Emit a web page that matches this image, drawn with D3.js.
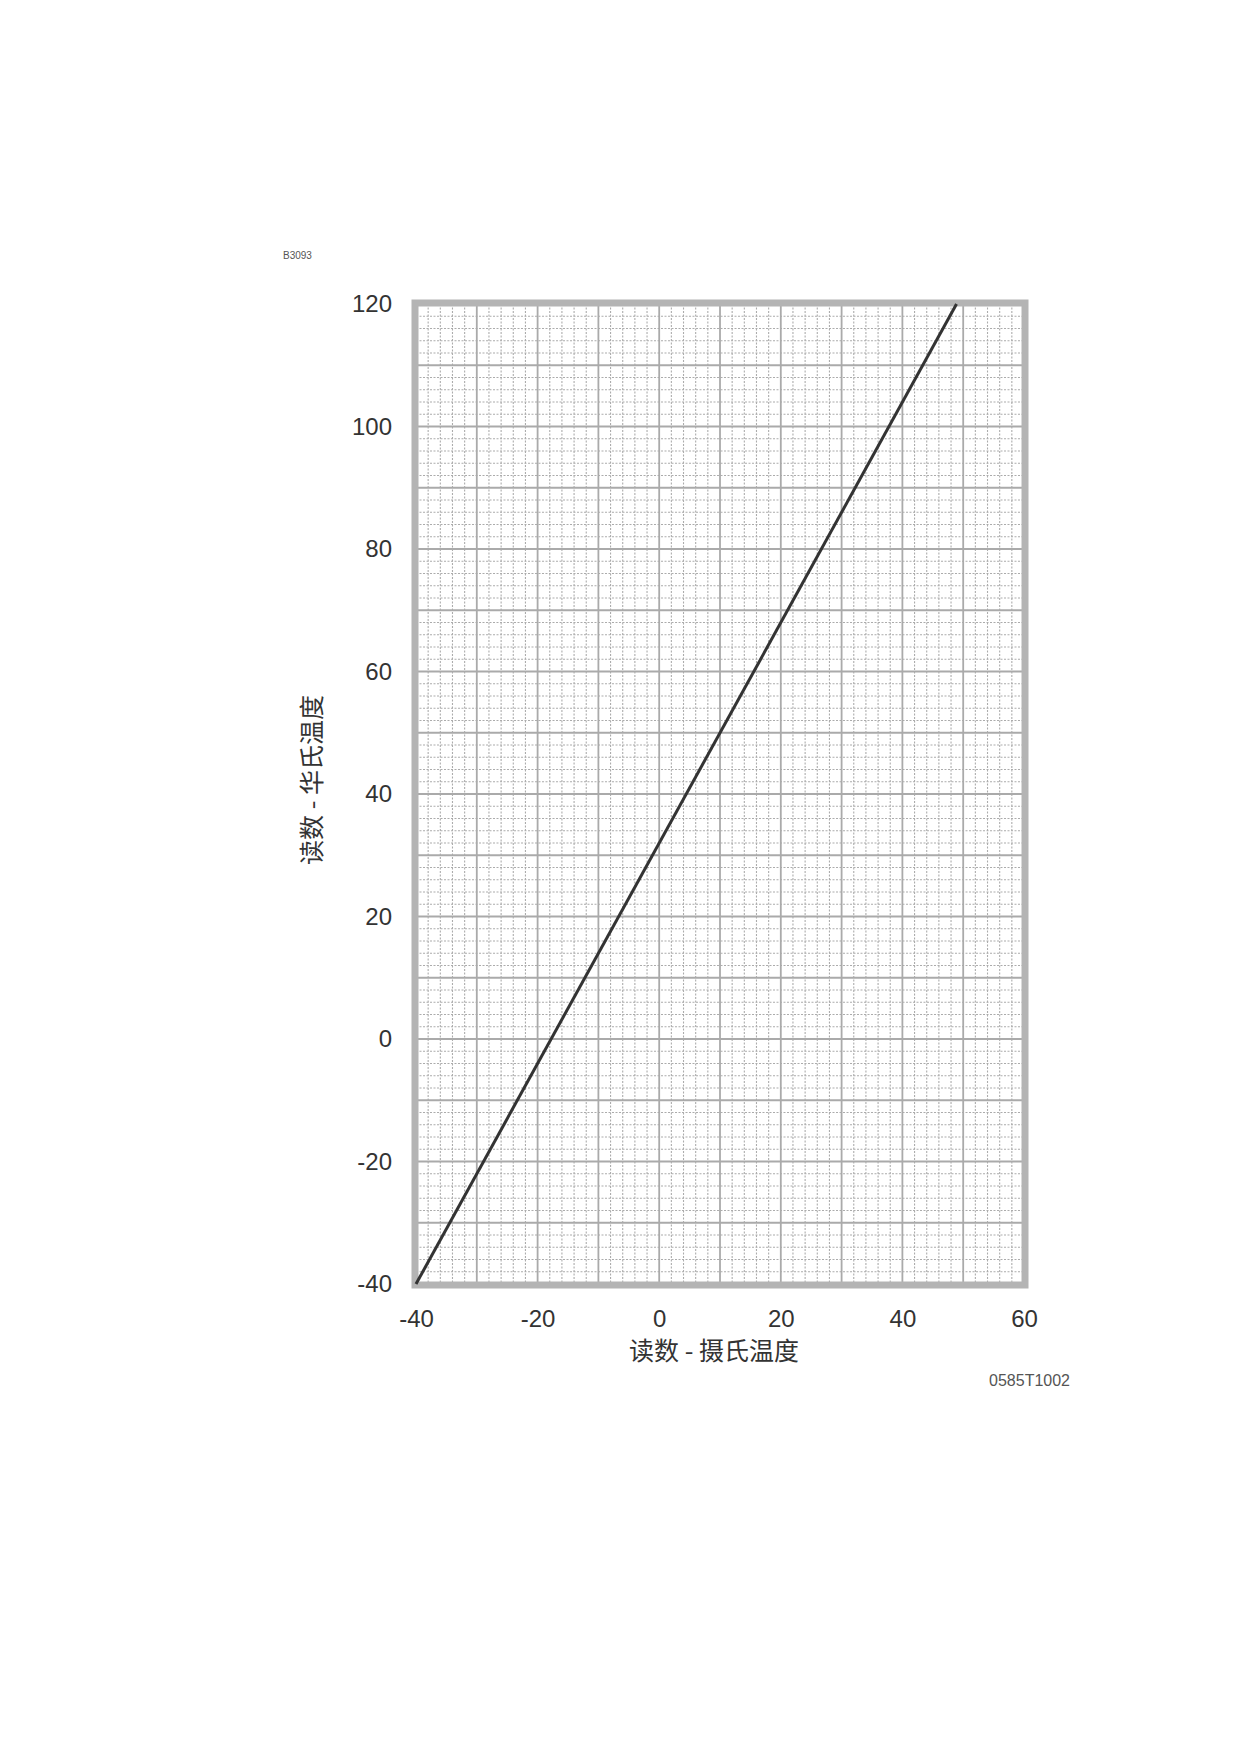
<!DOCTYPE html>
<html><head><meta charset="utf-8">
<script src="https://cdn.jsdelivr.net/npm/d3@7"></script>
<style>html,body{margin:0;padding:0;background:#fff;}</style>
</head><body>
<svg id="c" width="1240" height="1754"></svg>
<script>
// data
const celsius = [-40, 48.9];
const fahrenheit = [-40, 120];
const xTicks = [-40, -20, 0, 20, 40, 60];
const yTicks = [-40, -20, 0, 20, 40, 60, 80, 100, 120];
const xTitle = "读数 - 摄氏温度";
const yTitle = "读数 - 华氏温度";
const figId = "B3093";
const footNote = "0585T1002";

const svg = d3.select("#c");
const L = 416, R = 1024, T = 304, B = 1284;
const x = d3.scaleLinear().domain([-40, 60]).range([L, R]);
const y = d3.scaleLinear().domain([-40, 120]).range([B, T]);
const latin = "'Liberation Sans', Arial, sans-serif";
const cjk = "'Noto Sans CJK SC', sans-serif";
const fmt = d => String(d);

// minor grid every 2, major every 10
const minorX = d3.range(-40, 61, 2).filter(v => v % 10 !== 0);
const minorY = d3.range(-40, 121, 2).filter(v => v % 10 !== 0);
const majorX = d3.range(-30, 60, 10);
const majorY = d3.range(-30, 120, 10);
const g = svg.append("g");
g.selectAll("line.mx").data(minorX).join("line")
  .attr("x1", d => x(d)).attr("x2", d => x(d)).attr("y1", T).attr("y2", B)
  .attr("stroke", "#acacac").attr("stroke-width", 1.1).attr("stroke-dasharray", "2,1.5");
g.selectAll("line.my").data(minorY).join("line")
  .attr("y1", d => y(d)).attr("y2", d => y(d)).attr("x1", L).attr("x2", R)
  .attr("stroke", "#acacac").attr("stroke-width", 1.1).attr("stroke-dasharray", "2,1.5");
g.selectAll("line.Mx").data(majorX).join("line")
  .attr("x1", d => x(d)).attr("x2", d => x(d)).attr("y1", T).attr("y2", B)
  .attr("stroke", "#aaaaaa").attr("stroke-width", 1.8);
g.selectAll("line.My").data(majorY).join("line")
  .attr("y1", d => y(d)).attr("y2", d => y(d)).attr("x1", L).attr("x2", R)
  .attr("stroke", "#aaaaaa").attr("stroke-width", 1.8);

// frame
svg.append("rect").attr("x", L - 1).attr("y", T - 1).attr("width", R - L + 2).attr("height", B - T + 2)
  .attr("fill", "none").attr("stroke", "#b4b4b4").attr("stroke-width", 7);

// line
svg.append("path").datum(celsius.map((c, i) => [c, fahrenheit[i]]))
  .attr("d", d3.line().x(d => x(d[0])).y(d => y(d[1])))
  .attr("fill", "none").attr("stroke", "#333").attr("stroke-width", 3);

// axes
const xa = svg.append("g").attr("transform", `translate(0,${B})`)
  .call(d3.axisBottom(x).tickValues(xTicks).tickSize(0).tickPadding(26).tickFormat(fmt));
xa.select(".domain").remove();
xa.selectAll("text").attr("font-family", latin).attr("font-size", 24).attr("fill", "#333");
const ya = svg.append("g").attr("transform", `translate(${L},0)`)
  .call(d3.axisLeft(y).tickValues(yTicks).tickSize(0).tickPadding(24).tickFormat(fmt));
ya.select(".domain").remove();
ya.selectAll("text").attr("font-family", latin).attr("font-size", 24).attr("fill", "#333");

// titles
svg.append("text").attr("x", 714).attr("y", 1360).attr("text-anchor", "middle")
  .attr("font-family", cjk).attr("font-size", 25).attr("fill", "#333").text(xTitle);
svg.append("text").attr("transform", "translate(321,780) rotate(-90)").attr("text-anchor", "middle")
  .attr("font-family", cjk).attr("font-size", 25).attr("fill", "#333").text(yTitle);
svg.append("text").attr("x", 283).attr("y", 259)
  .attr("font-family", latin).attr("font-size", 10).attr("fill", "#555").text(figId);
svg.append("text").attr("x", 1070).attr("y", 1386).attr("text-anchor", "end")
  .attr("font-family", latin).attr("font-size", 16).attr("fill", "#555").text(footNote);
</script>
</body></html>
